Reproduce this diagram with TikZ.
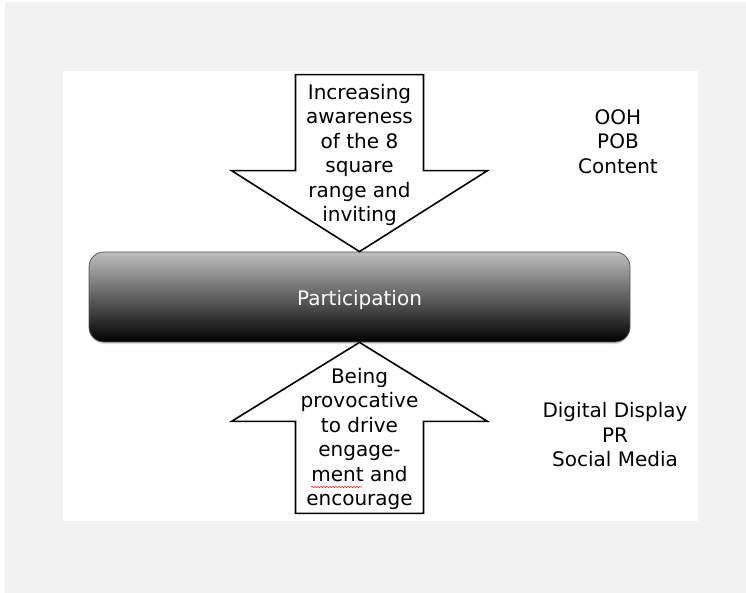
\documentclass[tikz,border=0pt]{standalone}
\usepackage{fontspec}
\setmainfont{DejaVu Sans}
\usepackage{tikz}
\usetikzlibrary{positioning, calc, shadows, decorations.pathmorphing}
\definecolor{pagegray}{RGB}{242, 242, 242}
\definecolor{edgegray}{RGB}{85, 85, 85}

\begin{document}
\begin{tikzpicture}[x=1pt, y=-1pt,
    bar/.style={rectangle, draw=edgegray, thick, rounded corners=15pt, minimum width=541pt, minimum height=90pt, top color=gray!50, bottom color=black, text=white, text height=21pt, text depth=4.7pt, font=\fontsize{20}{24}\selectfont, drop shadow={shadow xshift=0pt, shadow yshift=-2pt, opacity=0.25}},
    bigarrow/.style={draw=black, fill=white, line width=1.6pt, line join=miter},
    armtext/.style={align=center, inner sep=0pt, font=\fontsize{20}{24.4}\selectfont},
    sidetext/.style={align=center, inner sep=0pt, font=\fontsize{20}{24.5}\selectfont}]

    % Page and slide background
    \useasboundingbox (0,0) rectangle (746,593);
    \fill[white] (0,0) rectangle (746,593);
    \fill[pagegray] (5,2) rectangle (746,593);
    \fill[white] (63,71) rectangle (698,521);

    % Centre bar
    \node[bar] (part) at (359.5,297) {Participation};

    % Block arrows pointing into the bar
    \draw[bigarrow] (part.north) -- ++(128,-81) -- ++(-64,0) -- ++(0,-96) -- ++(-128,0) -- ++(0,96) -- ++(-64,0) -- cycle;
    \draw[bigarrow] (part.south) -- ++(128,79) -- ++(-64,0) -- ++(0,92) -- ++(-128,0) -- ++(0,-92) -- ++(-64,0) -- cycle;

    % Arrow texts
    \node[armtext] (aware) at (359.5,155) {Increasing\\awareness\\of the 8\\square\\range and\\inviting};
    \node[armtext] (provoke) at (359.5,439) {Being\\provocative\\to drive\\engage-\\ment and\\encourage};
    \draw[red!85, line width=0.6pt, decorate, decoration={snake, segment length=3pt, amplitude=0.7pt}] (311,487) -- (362,487);

    % Channels
    \node[sidetext] (topchannels) at (618,141.5) {OOH\\POB\\Content};
    \node[sidetext] (bottomchannels) at (615,435) {Digital Display\\PR\\Social Media};
\end{tikzpicture}
\end{document}
